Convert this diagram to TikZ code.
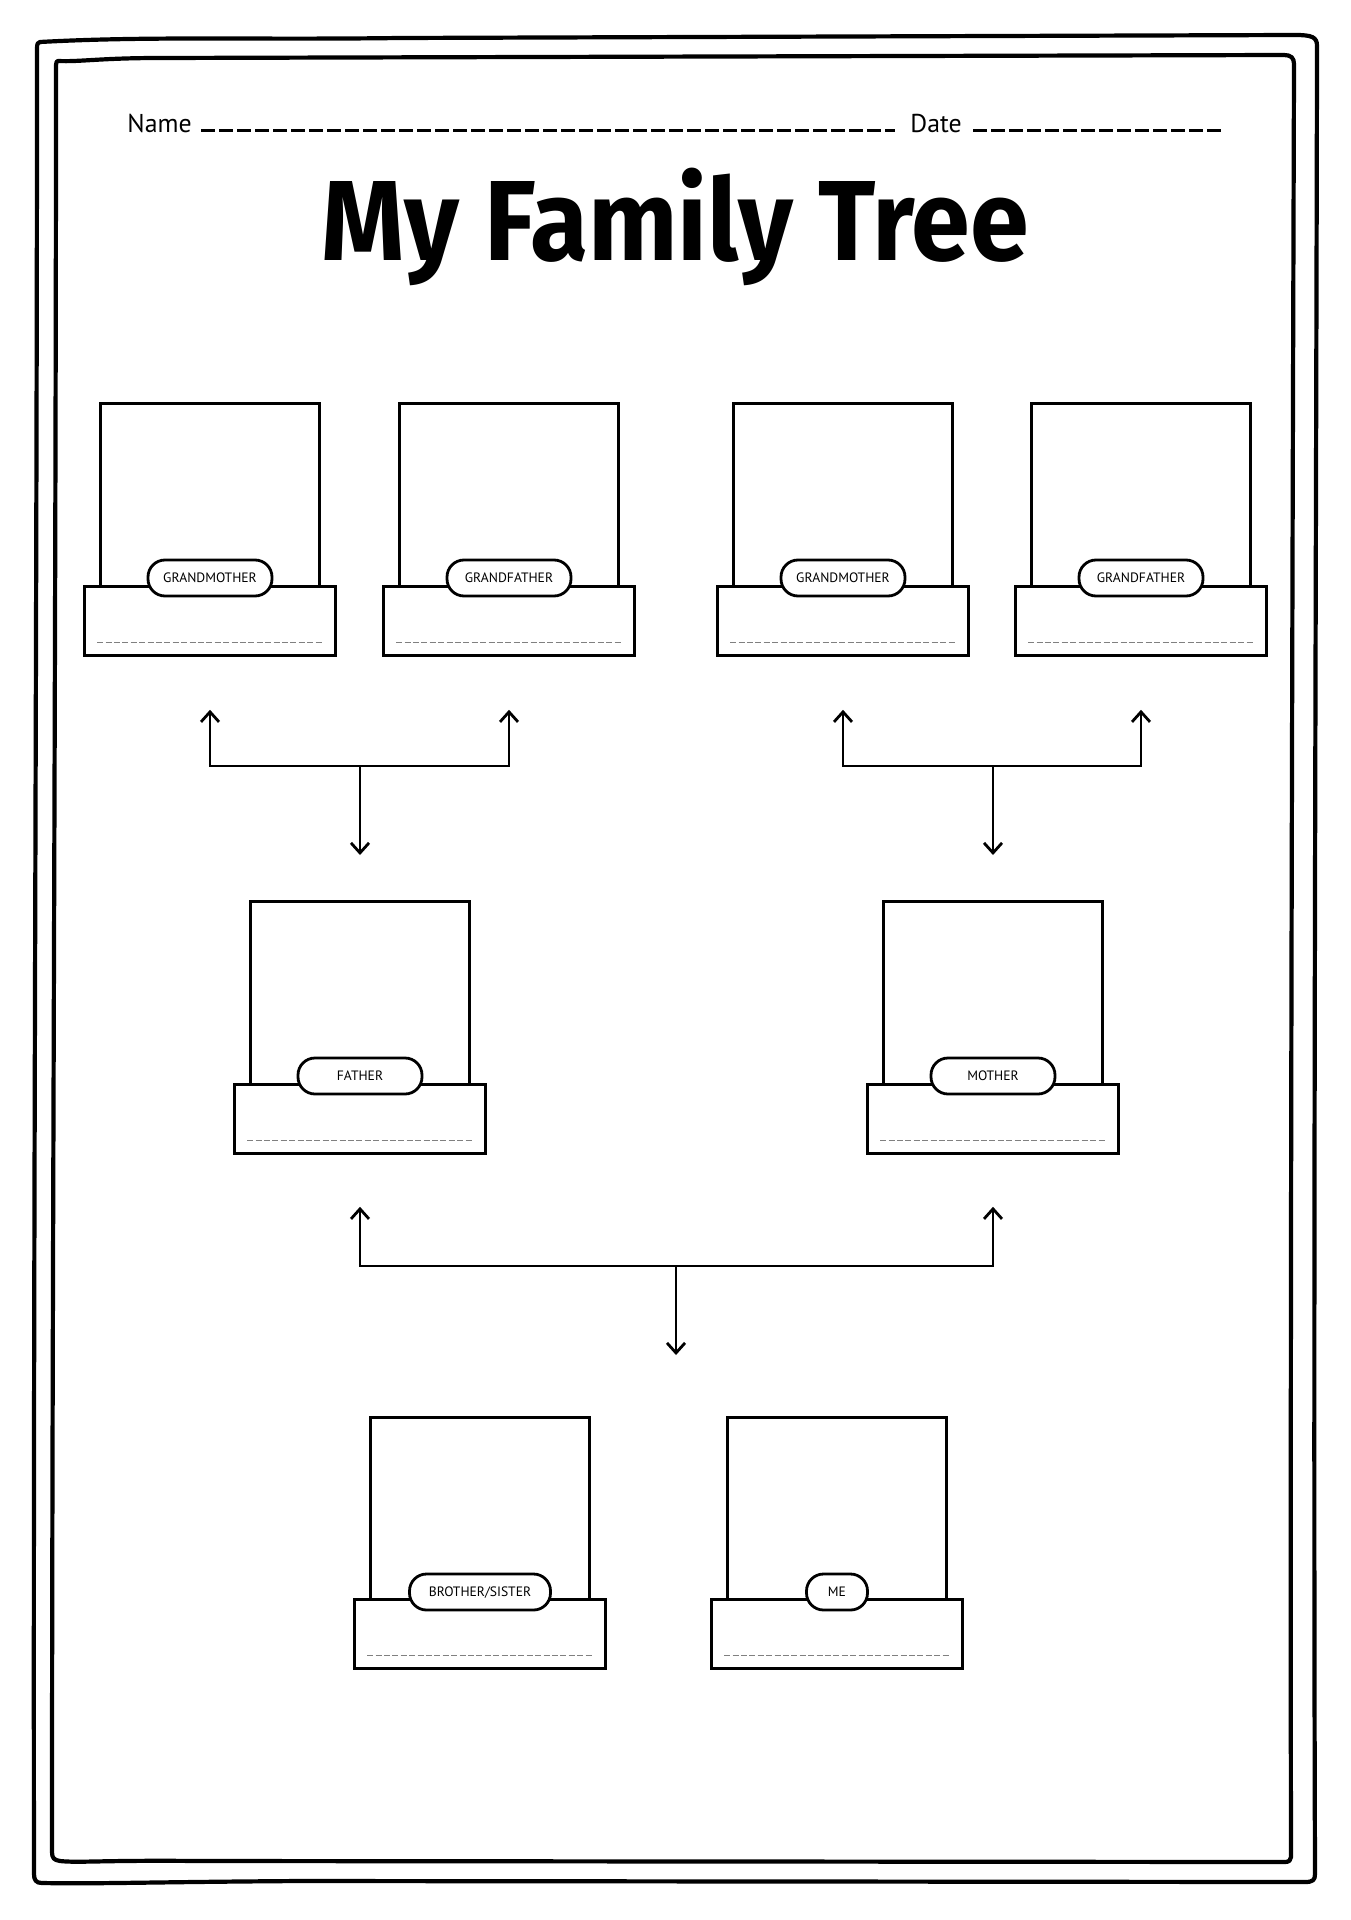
\documentclass[tikz,border=0pt]{standalone}
\usepackage{fontspec}
\setmainfont{PT Sans}
\newfontfamily\titlefont{Fira Sans}
\usetikzlibrary{positioning, arrows.meta, calc}

\begin{document}
\begin{tikzpicture}[
    x=0.5pt, y=-0.5pt,
    frame/.style={line width=2.1pt, line join=round, line cap=round},
    photo/.style={rectangle, draw, line width=1.4pt, minimum width=109.5pt, minimum height=91.5pt, anchor=north},
    base/.style={rectangle, draw, fill=white, line width=1.4pt, minimum width=125.5pt, minimum height=34.5pt, anchor=north},
    tag/.style={rectangle, rounded corners=8.5pt, draw, fill=white, line width=1.4pt, minimum width=62pt, minimum height=18pt, inner sep=0pt, text height=4.8pt, text depth=0pt, font=\fontsize{6.8}{7}\selectfont},
    blank/.style={black!50, line width=0.6pt, dash pattern=on 3pt off 1.2pt},
    fillin/.style={line width=1.5pt, dash pattern=on 7pt off 2pt},
    arrow/.style={-{Straight Barb[length=5pt, width=9pt]}, line width=1.4pt}
]
    \useasboundingbox (0,0) rectangle (1350,1920);

    % Page frames
    \draw[frame] (40,42) .. controls (150,36) and (250,40) .. (400,38) -- (1295,35) .. controls (1312,35) and (1317,37) .. (1317,46) .. controls (1316,600) and (1313,1300) .. (1315,1874) .. controls (1315,1880) and (1313,1882) .. (1305,1882) -- (300,1881) .. controls (150,1882) and (100,1884) .. (42,1883) .. controls (36,1883) and (34,1880) .. (34,1874) .. controls (33,1300) and (37,600) .. (37,48) .. controls (37,44) and (38,42) .. (40,42) -- cycle;
    \draw[frame] (58,61) .. controls (80,62) and (100,58) .. (160,58) -- (1284,55) .. controls (1291,55) and (1294,58) .. (1294,64) .. controls (1292,700) and (1290,1400) .. (1291,1857) .. controls (1291,1860) and (1289,1862) .. (1285,1862) -- (200,1861) .. controls (100,1860) and (80,1863) .. (60,1861) .. controls (54,1860) and (52,1858) .. (52,1852) .. controls (52,1300) and (56,600) .. (56,65) .. controls (56,62) and (57,61) .. (58,61) -- cycle;

    % Header
    \node[anchor=base west, inner sep=0pt, font=\fontsize{12.9}{14}\selectfont] (name) at (127,133) {Name};
    \node[anchor=base west, inner sep=0pt, font=\fontsize{12.9}{14}\selectfont] (date) at (910,133) {Date};
    \draw[fillin] ($(name.base east)+(9,-2)$) -- (895,131);
    \draw[fillin] ($(date.base east)+(11,-2)$) -- (1224,131);
    \node[anchor=base, inner sep=0pt, font=\titlefont\bfseries\fontsize{57}{60}\selectfont] (title) at (675,261) {\scalebox{0.93}[1]{My Family Tree}};

    % Grandparents
    \node[photo] (gm1) at (210,402) {};
    \node[base] (gm1base) at (210,585) {};
    \node[tag] (gm1tag) at (210,578) {GRANDMOTHER};
    \draw[blank] ($(gm1base.south west)+(14,-14)$) -- ($(gm1base.south east)+(-14,-14)$);

    \node[photo] (gf1) at (509,402) {};
    \node[base] (gf1base) at (509,585) {};
    \node[tag] (gf1tag) at (509,578) {GRANDFATHER};
    \draw[blank] ($(gf1base.south west)+(14,-14)$) -- ($(gf1base.south east)+(-14,-14)$);

    \node[photo] (gm2) at (843,402) {};
    \node[base] (gm2base) at (843,585) {};
    \node[tag] (gm2tag) at (843,578) {GRANDMOTHER};
    \draw[blank] ($(gm2base.south west)+(14,-14)$) -- ($(gm2base.south east)+(-14,-14)$);

    \node[photo] (gf2) at (1141,402) {};
    \node[base] (gf2base) at (1141,585) {};
    \node[tag] (gf2tag) at (1141,578) {GRANDFATHER};
    \draw[blank] ($(gf2base.south west)+(14,-14)$) -- ($(gf2base.south east)+(-14,-14)$);

    % Parents
    \node[photo] (father) at (360,900) {};
    \node[base] (fatherbase) at (360,1083) {};
    \node[tag] (fathertag) at (360,1076) {FATHER};
    \draw[blank] ($(fatherbase.south west)+(14,-14)$) -- ($(fatherbase.south east)+(-14,-14)$);

    \node[photo] (mother) at (993,900) {};
    \node[base] (motherbase) at (993,1083) {};
    \node[tag] (mothertag) at (993,1076) {MOTHER};
    \draw[blank] ($(motherbase.south west)+(14,-14)$) -- ($(motherbase.south east)+(-14,-14)$);

    % Children
    \node[photo] (sibling) at (480,1416) {};
    \node[base] (siblingbase) at (480,1598) {};
    \node[tag, minimum width=70.5pt] (siblingtag) at (480,1592) {BROTHER/SISTER};
    \draw[blank] ($(siblingbase.south west)+(14,-14)$) -- ($(siblingbase.south east)+(-14,-14)$);

    \node[photo] (me) at (837,1416) {};
    \node[base] (mebase) at (837,1598) {};
    \node[tag, minimum width=30.5pt] (metag) at (837,1592) {ME};
    \draw[blank] ($(mebase.south west)+(14,-14)$) -- ($(mebase.south east)+(-14,-14)$);

    % Arrows
    \coordinate (join1) at (360,766);
    \coordinate (join2) at (993,766);
    \coordinate (join3) at (676,1266);
    \coordinate (kids) at (676,1355);
    \draw[arrow, shorten >=26.5pt] (join1) -| (gm1base.south);
    \draw[arrow, shorten >=26.5pt] (join1) -| (gf1base.south);
    \draw[arrow, shorten >=22.5pt] (join1) -- (join1 |- father.north);
    \draw[arrow, shorten >=26.5pt] (join2) -| (gm2base.south);
    \draw[arrow, shorten >=26.5pt] (join2) -| (gf2base.south);
    \draw[arrow, shorten >=22.5pt] (join2) -- (join2 |- mother.north);
    \draw[arrow, shorten >=26pt] (join3) -| (fatherbase.south);
    \draw[arrow, shorten >=26pt] (join3) -| (motherbase.south);
    \draw[arrow] (join3) -- (kids);
\end{tikzpicture}
\end{document}
